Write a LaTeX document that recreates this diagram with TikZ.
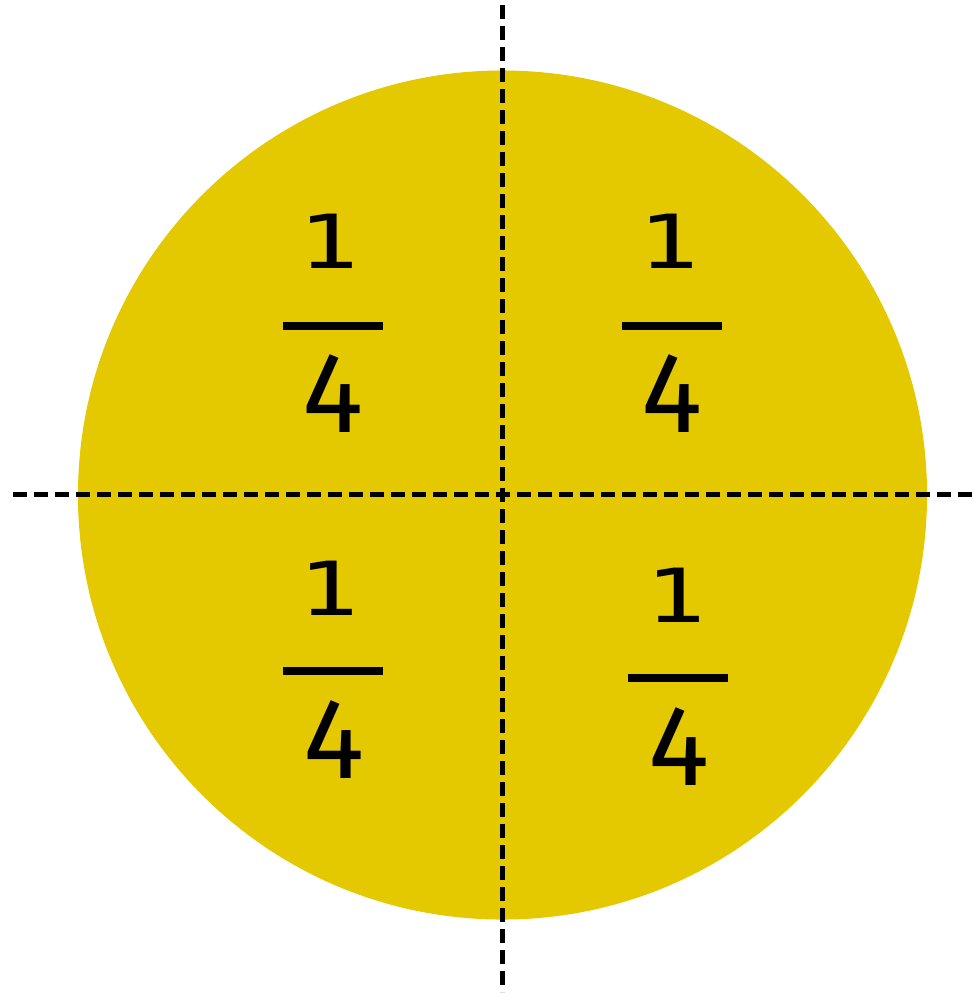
\documentclass[tikz,border=0pt]{standalone}
\usepackage{fontspec}
\newfontfamily\numfont{DejaVu Sans Mono}
\newfontfamily\denfont{Fira Sans}
\definecolor{discyellow}{RGB}{228,201,0}
\tikzset{
  cutline/.style={line width=3.75pt, dash pattern=on 10.5pt off 5.25pt, black},
  fracbar/.style={line width=6.5pt, black},
  numer/.style={font=\numfont\fontsize{56}{60}\selectfont, inner sep=0pt, anchor=base, xscale=1.35},
  denom/.style={font=\denfont\fontsize{86}{90}\selectfont, inner sep=0pt, anchor=base},
}
\begin{document}
\begin{tikzpicture}[x=0.75pt, y=-0.75pt]
\useasboundingbox (0,0) rectangle (974,993);
\fill[discyellow] (502.5,495) circle [radius=318.4pt];
% fractions
\node[numer] (n1) at (329,268) {1};
\coordinate (b1l) at (283,326); \coordinate (b1r) at (383,326);
\node[denom] (d1) at (332.5,432) {4};
\node[numer] (n2) at (668.5,268) {1};
\coordinate (b2l) at (622,326); \coordinate (b2r) at (722,326);
\node[denom] (d2) at (671.5,432) {4};
\node[numer] (n3) at (329,615) {1};
\coordinate (b3l) at (283,671); \coordinate (b3r) at (383,671);
\node[denom] (d3) at (333.5,778) {4};
\node[numer] (n4) at (675.5,622) {1};
\coordinate (b4l) at (628,678); \coordinate (b4r) at (728,678);
\node[denom] (d4) at (679,785) {4};
\draw[fracbar] (b1l) -- (b1r);
\draw[fracbar] (b2l) -- (b2r);
\draw[fracbar] (b3l) -- (b3r);
\draw[fracbar] (b4l) -- (b4r);
% dashed cut lines
\coordinate (vtop) at (502,5); \coordinate (vbot) at (502,992);
\coordinate (hleft) at (13,494); \coordinate (hright) at (974,494);
\draw[cutline] (vtop) -- (vbot);
\draw[cutline] (hleft) -- (hright);
\end{tikzpicture}
\end{document}
